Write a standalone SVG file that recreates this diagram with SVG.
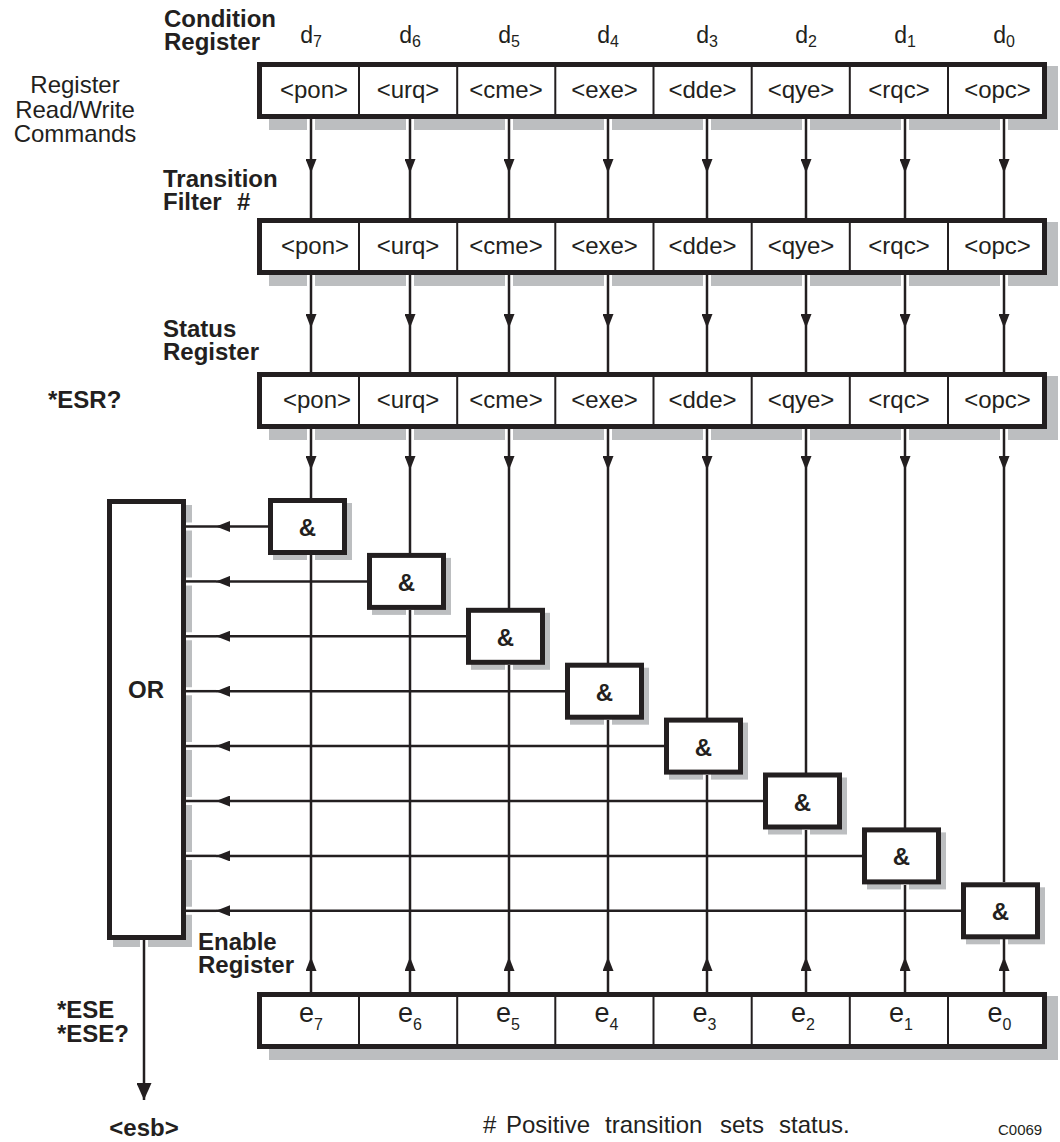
<svg xmlns="http://www.w3.org/2000/svg" width="1060" height="1142" viewBox="0 0 1060 1142">
<style>
.bg{fill:#fff}
.box{fill:#fff;stroke:#231f20;stroke-width:5}
.dv{stroke:#231f20;stroke-width:2}
.sh{fill:#bcbec0}
.gap{stroke:#fff;stroke-width:8}
.ln{stroke:#231f20;stroke-width:2.5;fill:none}
.arr{marker-end:url(#ah)}
.arr2{marker-end:url(#ah2)}
text{font-family:"Liberation Sans",Arial,Helvetica,sans-serif;fill:#231f20}
.b{font-weight:bold;font-size:24px}
.r{font-size:24px}
.c{font-size:24px;text-anchor:middle}
.d{font-size:23px;text-anchor:middle}
.e{font-size:27px;text-anchor:middle}
.s{font-size:16px}
.amp{font-weight:bold;font-size:24px;text-anchor:middle}
.m{text-anchor:middle}
</style>
<defs>
<marker id="ah" markerUnits="userSpaceOnUse" markerWidth="14" markerHeight="11" refX="14" refY="5.5" orient="auto"><path d="M0,0 L14,5.5 L0,11 Z" fill="#231f20"/></marker>
<marker id="ah2" markerUnits="userSpaceOnUse" markerWidth="17" markerHeight="15" refX="17" refY="7.5" orient="auto"><path d="M0,0 L17,7.5 L0,15 Z" fill="#231f20"/></marker>
</defs>
<rect class="bg" x="0" y="0" width="1060" height="1142"/>

<!-- shadows -->
<g id="shadows">
<rect class="sh" x="269" y="66" width="789" height="64"/>
<rect class="sh" x="269" y="222" width="789" height="64"/>
<rect class="sh" x="269" y="376" width="789" height="64"/>
<rect class="sh" x="269" y="996" width="789" height="64"/>
<rect class="sh" x="113" y="505" width="79" height="442"/>
<rect class="sh" x="273" y="503" width="79" height="57"/>
<rect class="sh" x="372" y="557.9" width="79" height="57"/>
<rect class="sh" x="471" y="612.8" width="79" height="57"/>
<rect class="sh" x="570" y="667.7" width="79" height="57"/>
<rect class="sh" x="669" y="722.6" width="79" height="57"/>
<rect class="sh" x="768" y="777.5" width="79" height="57"/>
<rect class="sh" x="867" y="832.4" width="79" height="57"/>
<rect class="sh" x="966" y="887.3" width="79" height="57"/>
</g>
<g id="shadow-gaps">
<path class="gap" d="M311 118V131M410 118V131M509 118V131M608 118V131M707 118V131M806 118V131M905 118V131M1004 118V131"/>
<path class="gap" d="M311 274V287M410 274V287M509 274V287M608 274V287M707 274V287M806 274V287M905 274V287M1004 274V287"/>
<path class="gap" d="M311 428V441M410 428V441M509 428V441M608 428V441M707 428V441M806 428V441M905 428V441M1004 428V441"/>
<path class="gap" d="M311 554V562M410 609V617M509 664V672M608 719V727M707 773V781M806 828V836M905 883V891M1004 938V946"/>
<path class="gap" d="M185 526.5H194M185 581.4H194M185 636.3H194M185 691.2H194M185 746.1H194M185 801H194M185 855.9H194M185 910.8H194M144 938V949"/>
</g>

<!-- connectors -->
<g id="connectors">
<path class="ln arr" d="M311 119V173"/><path class="ln" d="M311 173V218"/>
<path class="ln arr" d="M410 119V173"/><path class="ln" d="M410 173V218"/>
<path class="ln arr" d="M509 119V173"/><path class="ln" d="M509 173V218"/>
<path class="ln arr" d="M608 119V173"/><path class="ln" d="M608 173V218"/>
<path class="ln arr" d="M707 119V173"/><path class="ln" d="M707 173V218"/>
<path class="ln arr" d="M806 119V173"/><path class="ln" d="M806 173V218"/>
<path class="ln arr" d="M905 119V173"/><path class="ln" d="M905 173V218"/>
<path class="ln arr" d="M1004 119V173"/><path class="ln" d="M1004 173V218"/>

<path class="ln arr" d="M311 275V328"/><path class="ln" d="M311 328V372"/>
<path class="ln arr" d="M410 275V328"/><path class="ln" d="M410 328V372"/>
<path class="ln arr" d="M509 275V328"/><path class="ln" d="M509 328V372"/>
<path class="ln arr" d="M608 275V328"/><path class="ln" d="M608 328V372"/>
<path class="ln arr" d="M707 275V328"/><path class="ln" d="M707 328V372"/>
<path class="ln arr" d="M806 275V328"/><path class="ln" d="M806 328V372"/>
<path class="ln arr" d="M905 275V328"/><path class="ln" d="M905 328V372"/>
<path class="ln arr" d="M1004 275V328"/><path class="ln" d="M1004 328V372"/>

<path class="ln arr" d="M311 429V470"/><path class="ln" d="M311 470V498"/>
<path class="ln arr" d="M410 429V470"/><path class="ln" d="M410 470V553"/>
<path class="ln arr" d="M509 429V470"/><path class="ln" d="M509 470V608"/>
<path class="ln arr" d="M608 429V470"/><path class="ln" d="M608 470V663"/>
<path class="ln arr" d="M707 429V470"/><path class="ln" d="M707 470V718"/>
<path class="ln arr" d="M806 429V470"/><path class="ln" d="M806 470V773"/>
<path class="ln arr" d="M905 429V470"/><path class="ln" d="M905 470V828"/>
<path class="ln arr" d="M1004 429V470"/><path class="ln" d="M1004 470V882"/>

<path class="ln" d="M311 555V957"/><path class="ln arr" d="M311 992V957"/>
<path class="ln" d="M410 610V957"/><path class="ln arr" d="M410 992V957"/>
<path class="ln" d="M509 665V957"/><path class="ln arr" d="M509 992V957"/>
<path class="ln" d="M608 720V957"/><path class="ln arr" d="M608 992V957"/>
<path class="ln" d="M707 775V957"/><path class="ln arr" d="M707 992V957"/>
<path class="ln" d="M806 830V957"/><path class="ln arr" d="M806 992V957"/>
<path class="ln" d="M905 885V957"/><path class="ln arr" d="M905 992V957"/>
<path class="ln" d="M1004 939V957"/><path class="ln arr" d="M1004 992V957"/>

<path class="ln arr" d="M268 526.5H216"/><path class="ln" d="M216 526.5H186"/>
<path class="ln arr" d="M367 581.4H216"/><path class="ln" d="M216 581.4H186"/>
<path class="ln arr" d="M466 636.3H216"/><path class="ln" d="M216 636.3H186"/>
<path class="ln arr" d="M565 691.2H216"/><path class="ln" d="M216 691.2H186"/>
<path class="ln arr" d="M664 746.1H216"/><path class="ln" d="M216 746.1H186"/>
<path class="ln arr" d="M763 801H216"/><path class="ln" d="M216 801H186"/>
<path class="ln arr" d="M862 855.9H216"/><path class="ln" d="M216 855.9H186"/>
<path class="ln arr" d="M961 910.8H216"/><path class="ln" d="M216 910.8H186"/>

<path class="ln arr2" d="M144 940V1100"/>
</g>

<!-- registers -->
<g id="condition-register">
<rect class="box" x="259.5" y="64.5" width="785" height="52"/>
<path class="dv" d="M359 67V114M457.2 67V114M555.3 67V114M653.5 67V114M751.7 67V114M849.8 67V114M948 67V114"/>
<text class="c" y="97.5"><tspan x="314">&lt;pon&gt;</tspan><tspan x="408">&lt;urq&gt;</tspan><tspan x="506">&lt;cme&gt;</tspan><tspan x="604.5">&lt;exe&gt;</tspan><tspan x="702.5">&lt;dde&gt;</tspan><tspan x="801">&lt;qye&gt;</tspan><tspan x="899">&lt;rqc&gt;</tspan><tspan x="997.5">&lt;opc&gt;</tspan></text>
</g>
<g id="transition-filter">
<rect class="box" x="259.5" y="220.5" width="785" height="52"/>
<path class="dv" d="M359 223V270M457.2 223V270M555.3 223V270M653.5 223V270M751.7 223V270M849.8 223V270M948 223V270"/>
<text class="c" y="253.5"><tspan x="315">&lt;pon&gt;</tspan><tspan x="408">&lt;urq&gt;</tspan><tspan x="506">&lt;cme&gt;</tspan><tspan x="604.5">&lt;exe&gt;</tspan><tspan x="702.5">&lt;dde&gt;</tspan><tspan x="801">&lt;qye&gt;</tspan><tspan x="899">&lt;rqc&gt;</tspan><tspan x="997.5">&lt;opc&gt;</tspan></text>
</g>
<g id="status-register">
<rect class="box" x="259.5" y="374.5" width="785" height="52"/>
<path class="dv" d="M359 377V424M457.2 377V424M555.3 377V424M653.5 377V424M751.7 377V424M849.8 377V424M948 377V424"/>
<text class="c" y="407.5"><tspan x="317">&lt;pon&gt;</tspan><tspan x="408">&lt;urq&gt;</tspan><tspan x="506">&lt;cme&gt;</tspan><tspan x="604.5">&lt;exe&gt;</tspan><tspan x="702.5">&lt;dde&gt;</tspan><tspan x="801">&lt;qye&gt;</tspan><tspan x="899">&lt;rqc&gt;</tspan><tspan x="997.5">&lt;opc&gt;</tspan></text>
</g>
<g id="enable-register">
<rect class="box" x="259.5" y="994.5" width="785" height="52"/>
<path class="dv" d="M359 997V1044M457.2 997V1044M555.3 997V1044M653.5 997V1044M751.7 997V1044M849.8 997V1044M948 997V1044"/>
<text class="e" x="311" y="1022">e<tspan class="s" dy="8">7</tspan></text>
<text class="e" x="410" y="1022">e<tspan class="s" dy="8">6</tspan></text>
<text class="e" x="508" y="1022">e<tspan class="s" dy="8">5</tspan></text>
<text class="e" x="606.5" y="1022">e<tspan class="s" dy="8">4</tspan></text>
<text class="e" x="704.5" y="1022">e<tspan class="s" dy="8">3</tspan></text>
<text class="e" x="803" y="1022">e<tspan class="s" dy="8">2</tspan></text>
<text class="e" x="901" y="1022">e<tspan class="s" dy="8">1</tspan></text>
<text class="e" x="999.5" y="1022">e<tspan class="s" dy="8">0</tspan></text>
</g>

<!-- OR -->
<g id="or-gate">
<rect class="box" x="109.5" y="501.5" width="74" height="436"/>
<text class="b m" x="146" y="698">OR</text>
</g>

<!-- AND gates -->
<g id="and7"><rect class="box" x="270.5" y="500.5" width="74" height="52"/><text class="amp" x="307.5" y="536">&amp;</text></g>
<g id="and6"><rect class="box" x="369.5" y="555.4" width="74" height="52"/><text class="amp" x="406.5" y="590.9">&amp;</text></g>
<g id="and5"><rect class="box" x="468.5" y="610.3" width="74" height="52"/><text class="amp" x="505.5" y="645.8">&amp;</text></g>
<g id="and4"><rect class="box" x="567.5" y="665.2" width="74" height="52"/><text class="amp" x="604.5" y="700.7">&amp;</text></g>
<g id="and3"><rect class="box" x="666.5" y="720.1" width="74" height="52"/><text class="amp" x="703.5" y="755.6">&amp;</text></g>
<g id="and2"><rect class="box" x="765.5" y="775" width="74" height="52"/><text class="amp" x="802.5" y="810.5">&amp;</text></g>
<g id="and1"><rect class="box" x="864.5" y="829.9" width="74" height="52"/><text class="amp" x="901.5" y="865.4">&amp;</text></g>
<g id="and0"><rect class="box" x="963.5" y="884.8" width="74" height="52"/><text class="amp" x="1000.5" y="920.3">&amp;</text></g>

<!-- labels -->
<g id="labels">
<text class="b" x="164" y="27">Condition</text>
<text class="b" x="164" y="50">Register</text>
<text class="d" x="311" y="43">d<tspan class="s" dy="4">7</tspan></text>
<text class="d" x="410" y="43">d<tspan class="s" dy="4">6</tspan></text>
<text class="d" x="509" y="43">d<tspan class="s" dy="4">5</tspan></text>
<text class="d" x="608" y="43">d<tspan class="s" dy="4">4</tspan></text>
<text class="d" x="707" y="43">d<tspan class="s" dy="4">3</tspan></text>
<text class="d" x="806" y="43">d<tspan class="s" dy="4">2</tspan></text>
<text class="d" x="905" y="43">d<tspan class="s" dy="4">1</tspan></text>
<text class="d" x="1004" y="43">d<tspan class="s" dy="4">0</tspan></text>
<text class="r m" x="75" y="93">Register</text>
<text class="r m" x="75" y="118">Read/Write</text>
<text class="r m" x="75" y="142">Commands</text>
<text class="b" x="163" y="187">Transition</text>
<text class="b" x="163" y="210">Filter</text>
<text class="b" x="237" y="210">#</text>
<text class="b" x="163" y="337">Status</text>
<text class="b" x="163" y="360">Register</text>
<text class="b" x="48" y="408">*ESR?</text>
<text class="b" x="198" y="950">Enable</text>
<text class="b" x="198" y="973">Register</text>
<text class="b" x="57" y="1018">*ESE</text>
<text class="b" x="57" y="1042">*ESE?</text>
<text class="b m" x="144" y="1136">&lt;esb&gt;</text>
<text class="r" y="1133"><tspan x="483">#</tspan><tspan x="506">Positive</tspan><tspan x="605">transition</tspan><tspan x="720">sets</tspan><tspan x="779">status.</tspan></text>
<text x="998" y="1135" style="font-size:15px">C0069</text>
</g>
</svg>
